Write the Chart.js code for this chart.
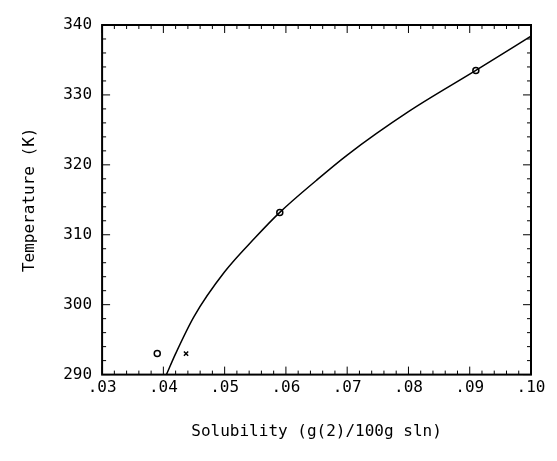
<!DOCTYPE html>
<html>
<head>
<meta charset="utf-8">
<script src="https://cdn.jsdelivr.net/npm/chart.js@4"></script>
<style>
html, body { margin: 0; padding: 0; background: #fff; }
#chart { display: block; }
</style>
</head>
<body>
<canvas id="chart" width="557" height="461"></canvas>
<script>
'use strict';

// measured points (circles) and the extra cross
const circleX = [0.0390, 0.0590, 0.0910];
const circleY = [293.0, 313.2, 333.5];
const crossX = [0.0437];
const crossY = [293.0];

// smoothed curve
const curveX = [0.0405, 0.0420, 0.0450, 0.0500, 0.0550, 0.0590, 0.0650, 0.0700, 0.0800, 0.0910, 0.1000];
const curveY = [290.0, 293.0, 298.3, 304.7, 309.6, 313.2, 317.8, 321.4, 327.6, 333.5, 338.4];

const xTicks = ['.03', '.04', '.05', '.06', '.07', '.08', '.09', '.10'];

const font = { family: 'DejaVu Sans Mono', size: 16 };

function
pairs(xs, ys)
{
    return xs.map((x, i) => ({ x, y: ys[i] }));
}

// inward ticks on all four sides of the box
const innerTicks = {
    id: 'innerTicks',
    afterDraw(chart) {
        const { ctx, chartArea: a, scales: { x, y } } = chart;
        ctx.save();
        ctx.strokeStyle = '#000';
        ctx.lineWidth = 1;
        ctx.beginPath();
        for (let v = 30; v <= 100; v += 2) {
            const px = x.getPixelForValue(v / 1000);
            const len = v % 10 === 0 ? 8 : 4;
            ctx.moveTo(px, a.bottom); ctx.lineTo(px, a.bottom - len);
            ctx.moveTo(px, a.top); ctx.lineTo(px, a.top + len);
        }
        for (let v = 290; v <= 340; v += 2) {
            const py = y.getPixelForValue(v);
            const len = v % 10 === 0 ? 8 : 4;
            ctx.moveTo(a.left, py); ctx.lineTo(a.left + len, py);
            ctx.moveTo(a.right, py); ctx.lineTo(a.right - len, py);
        }
        ctx.stroke();
        ctx.lineWidth = 2;
        ctx.strokeRect(a.left, a.top, a.right - a.left, a.bottom - a.top);
        ctx.restore();
    },
};

new Chart(document.getElementById('chart'), {
    type: 'scatter',
    data: {
        datasets: [
            {
                data: pairs(curveX, curveY),
                showLine: true,
                cubicInterpolationMode: 'monotone',
                borderColor: '#000',
                borderWidth: 1.5,
                pointRadius: 0,
            },
            {
                data: pairs(circleX, circleY),
                pointStyle: 'circle',
                pointRadius: 3,
                borderColor: '#000',
                borderWidth: 1.5,
                backgroundColor: '#fff',
            },
            {
                data: pairs(crossX, crossY),
                pointStyle: 'crossRot',
                pointRadius: 3,
                borderColor: '#000',
                borderWidth: 1.5,
            },
        ],
    },
    options: {
        responsive: false,
        animation: false,
        layout: { padding: { top: 25, right: 26, bottom: 16, left: 16 } },
        plugins: { legend: { display: false }, tooltip: { enabled: false } },
        scales: {
            x: {
                type: 'linear',
                min: 0.03, max: 0.10,
                afterBuildTicks: s => { s.ticks = xTicks.map(t => ({ value: Number('0' + t) })); },
                ticks: {
                    color: '#000', font, padding: 4,
                    callback: (v, i) => xTicks[i],
                },
                grid: { display: false, drawTicks: false },
                border: { display: false },
                title: {
                    display: true, text: 'Solubility (g(2)/100g sln)',
                    color: '#000', font, padding: { top: 20 },
                },
            },
            y: {
                min: 290, max: 340,
                ticks: { stepSize: 10, color: '#000', font, padding: 10 },
                grid: { display: false, drawTicks: false },
                border: { display: false },
                title: {
                    display: true, text: 'Temperature (K)',
                    color: '#000', font, padding: { bottom: 14 },
                },
            },
        },
    },
    plugins: [innerTicks],
});
</script>
</body>
</html>
